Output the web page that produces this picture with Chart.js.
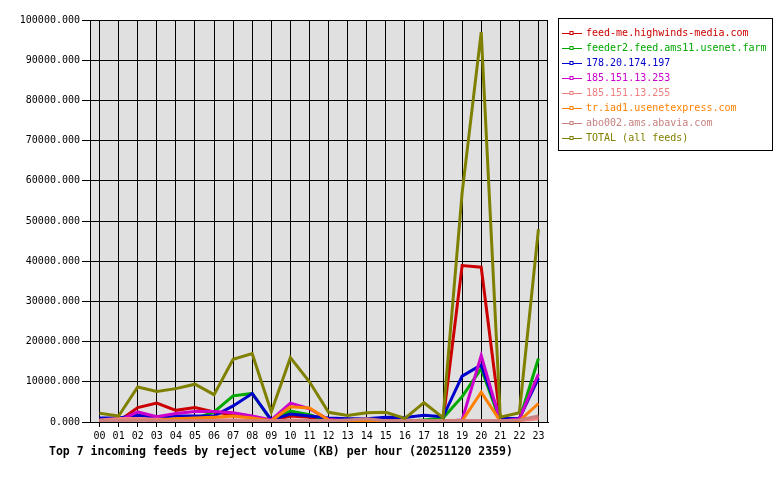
<!DOCTYPE html>
<html>
<head>
<meta charset="utf-8">
<script src="https://cdn.jsdelivr.net/npm/chart.js@4"></script>
<style>
  body { margin: 0; background: #ffffff; }
  #wrap { width: 780px; height: 480px; }
</style>
</head>
<body>
<div id="wrap"><canvas id="feeds" width="780" height="480"></canvas></div>
<script>
const hours = ['00','01','02','03','04','05','06','07','08','09','10','11','12','13','14','15','16','17','18','19','20','21','22','23'];
const yTicks = [0, 10000, 20000, 30000, 40000, 50000, 60000, 70000, 80000, 90000, 100000];

const feedNames = [
    'feed-me.highwinds-media.com',
    'feeder2.feed.ams11.usenet.farm',
    '178.20.174.197',
    '185.151.13.253',
    '185.151.13.255',
    'tr.iad1.usenetexpress.com',
    'abo002.ams.abavia.com',
    'TOTAL (all feeds)'
];
const feedColors = ['#cc0000', '#00a800', '#0000cc', '#cc00cc', '#f08080', '#ff8000', '#c88080', '#808000'];

// KB rejected per hour
const highwinds = [300, 200, 3600, 4700, 2900, 3600, 2500, 1800, 1200, 200, 1500, 1200, 200, 300, 200, 300, 200, 300, 200, 38900, 38500, 800, 500, 1200];
const usenetFarm = [200, 200, 500, 500, 600, 800, 2500, 6500, 7100, 300, 2700, 1800, 300, 300, 300, 300, 200, 500, 1000, 6300, 13300, 200, 500, 15800];
const ip174 = [1000, 1000, 1700, 1200, 1500, 1500, 1500, 4000, 7100, 500, 2000, 1500, 1000, 800, 800, 1200, 1100, 1700, 1300, 11400, 14200, 900, 900, 10900];
const ip253 = [300, 300, 2500, 1300, 2100, 2600, 2600, 2300, 1500, 500, 4700, 3300, 600, 300, 300, 200, 200, 200, 200, 500, 16500, 200, 800, 11900];
const ip255 = [500, 900, 900, 700, 700, 600, 600, 500, 500, 300, 500, 400, 300, 300, 300, 300, 300, 300, 300, 300, 300, 300, 300, 800];
const usenetExpress = [200, 200, 300, 400, 800, 1000, 1200, 1500, 1000, 300, 3800, 3500, 500, 200, 300, 200, 200, 200, 200, 300, 7400, 200, 300, 4600];
const abavia = [300, 300, 300, 300, 300, 300, 300, 300, 300, 300, 300, 300, 300, 500, 800, 300, 300, 300, 300, 300, 300, 300, 500, 1500];
const total = [2200, 1500, 8700, 7600, 8300, 9400, 6800, 15600, 17000, 2500, 16000, 10000, 2400, 1600, 2300, 2400, 900, 4800, 1100, 57000, 97000, 1200, 2300, 48000];

const series = [highwinds, usenetFarm, ip174, ip253, ip255, usenetExpress, abavia, total];
const titleText = 'Top 7 incoming feeds by reject volume (KB) per hour (20251120 2359)';
const mono = "'DejaVu Sans Mono', monospace";

const plotBackground = {
    id: 'plotBackground',
    beforeDraw(chart) {
        const a = chart.chartArea;
        const ctx = chart.ctx;
        ctx.save();
        ctx.fillStyle = '#ffffff';
        ctx.fillRect(0, 0, chart.width, chart.height);
        ctx.fillStyle = '#e0e0e0';
        ctx.fillRect(a.left, a.top, a.right - a.left, a.bottom - a.top);
        ctx.restore();
    },
    afterDraw(chart) {
        const a = chart.chartArea;
        const ctx = chart.ctx;
        ctx.save();
        // frame
        ctx.strokeStyle = '#000000';
        ctx.lineWidth = 1;
        ctx.strokeRect(a.left + 0.5, a.top + 0.5, a.right - a.left - 1, a.bottom - a.top);

        // legend box
        ctx.strokeRect(558.5, 18.5, 214, 132);
        ctx.font = '10px ' + mono;
        ctx.textBaseline = 'middle';
        chart.data.datasets.forEach((ds, i) => {
            const y = 33.5 + i * 15;
            ctx.strokeStyle = ds.borderColor;
            ctx.lineWidth = 1;
            ctx.beginPath();
            ctx.moveTo(562, y);
            ctx.lineTo(582, y);
            ctx.stroke();
            ctx.fillStyle = '#ffffff';
            ctx.fillRect(570, y - 2, 3, 3);
            ctx.strokeRect(570, y - 2, 3, 3);
            ctx.fillStyle = ds.borderColor;
            ctx.fillText(ds.label, 586, y);
        });

        // caption
        ctx.fillStyle = '#000000';
        ctx.font = 'bold 11.5px ' + mono;
        ctx.fillText(titleText, 49, 452);
        ctx.restore();
    }
};

const ctx = document.getElementById('feeds').getContext('2d');
const chart = new Chart(ctx, {
    type: 'line',
    data: {
        labels: hours,
        datasets: series.map((values, i) => ({
            label: feedNames[i],
            data: values,
            borderColor: feedColors[i],
            backgroundColor: 'transparent',
            borderWidth: 3,
            pointRadius: 0,
            tension: 0,
            order: series.length - i
        }))
    },
    options: {
        responsive: false,
        animation: false,
        layout: {
            padding: { left: 0, top: 20, right: 232, bottom: 38 }
        },
        plugins: {
            legend: { display: false },
            tooltip: { enabled: false }
        },
        scales: {
            x: {
                offset: true,
                afterFit: s => { s.height = 20; },
                grid: {
                    offset: false,
                    color: '#000000',
                    lineWidth: 1,
                    tickLength: 5,
                    drawOnChartArea: true
                },
                border: { color: '#000000' },
                ticks: {
                    color: '#000000',
                    font: { family: mono, size: 10 },
                    padding: 3,
                    maxRotation: 0,
                    autoSkip: false
                }
            },
            y: {
                min: 0,
                max: 100000,
                afterFit: s => { s.width = 90; },
                afterBuildTicks: s => { s.ticks = yTicks.map(v => ({ value: v })); },
                grid: {
                    color: '#000000',
                    lineWidth: 1,
                    tickLength: 8
                },
                border: { color: '#000000' },
                ticks: {
                    color: '#000000',
                    font: { family: mono, size: 10 },
                    padding: 2,
                    callback: v => Number(v).toFixed(3)
                }
            }
        }
    },
    plugins: [plotBackground]
});
</script>
</body>
</html>
